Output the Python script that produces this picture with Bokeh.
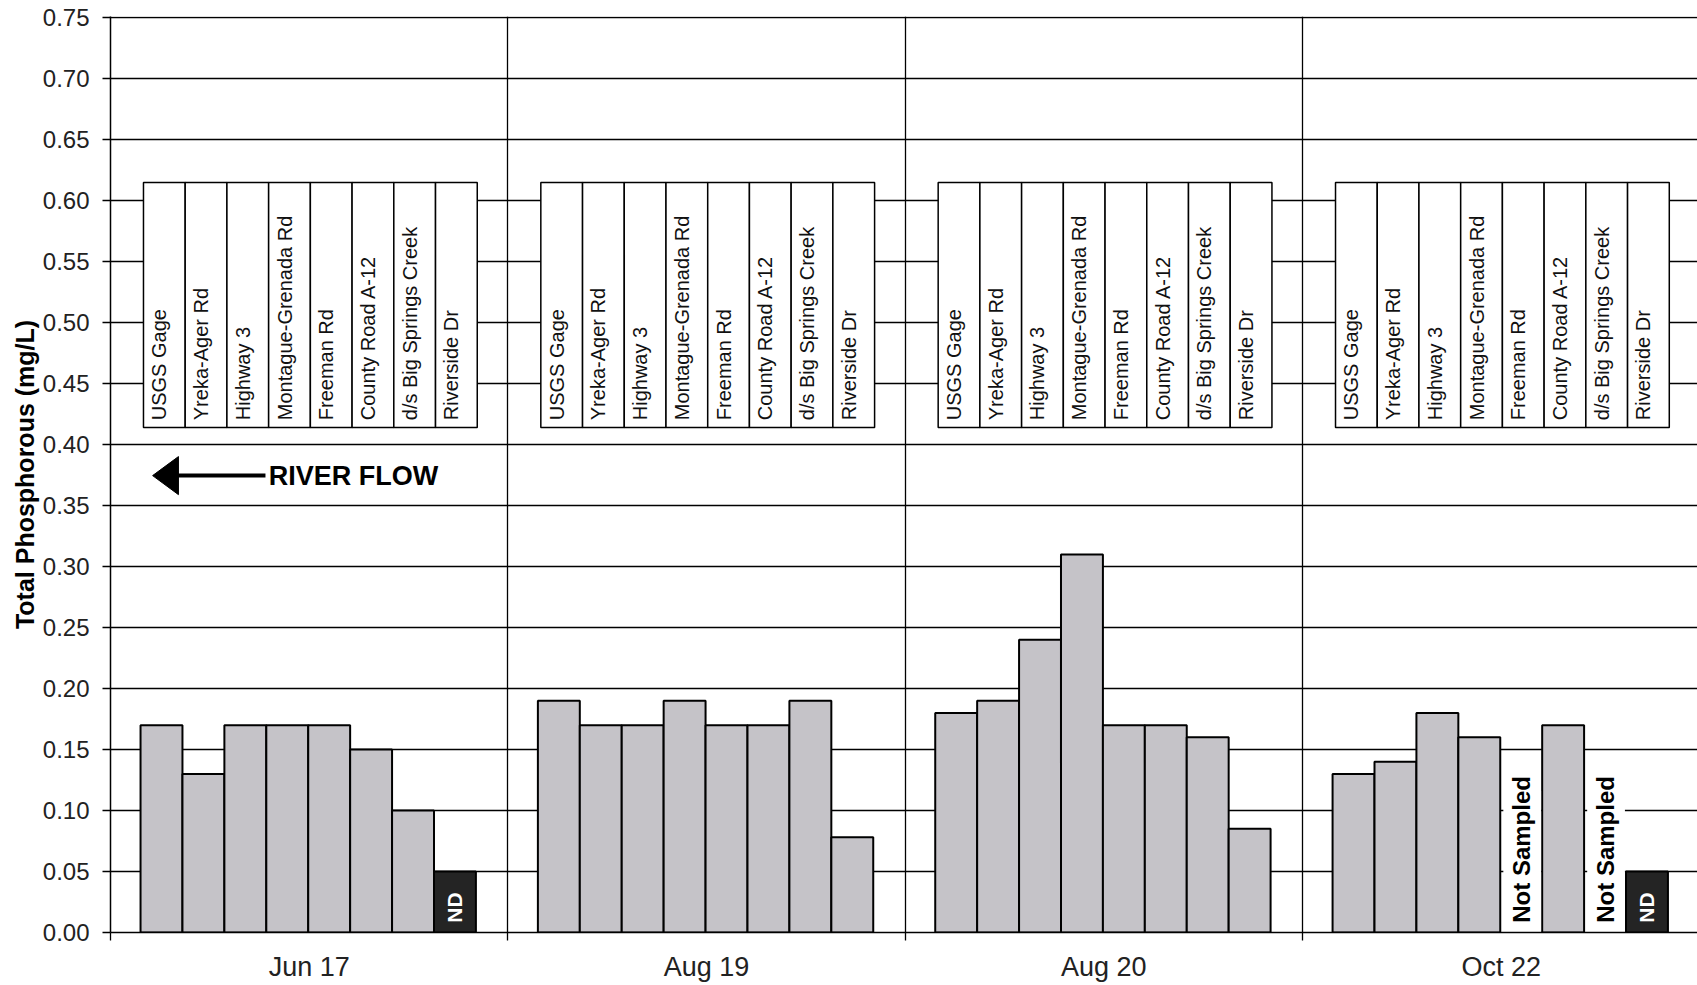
import math
from bokeh.plotting import figure
from bokeh.models import ColumnDataSource, FixedTicker, NumeralTickFormatter, Range1d
from bokeh.core.properties import value
from bokeh.embed import file_html
from bokeh.resources import INLINE

# ---------------- data ----------------
DATES = ["Jun 17", "Aug 19", "Aug 20", "Oct 22"]
SITES = ["USGS Gage", "Yreka-Ager Rd", "Highway 3", "Montague-Grenada Rd",
         "Freeman Rd", "County Road A-12", "d/s Big Springs Creek", "Riverside Dr"]

TP_JUN17 = [0.17, 0.13, 0.17, 0.17, 0.17, 0.15, 0.10, 0.05]
TP_AUG19 = [0.19, 0.17, 0.17, 0.19, 0.17, 0.17, 0.19, 0.078]
TP_AUG20 = [0.18, 0.19, 0.24, 0.31, 0.17, 0.17, 0.16, 0.085]
TP_OCT22 = [0.13, 0.14, 0.18, 0.16, None, 0.17, None, 0.05]

FLAG_JUN17 = ["", "", "", "", "", "", "", "ND"]
FLAG_AUG19 = ["", "", "", "", "", "", "", ""]
FLAG_AUG20 = ["", "", "", "", "", "", "", ""]
FLAG_OCT22 = ["", "", "", "", "Not Sampled", "", "Not Sampled", "ND"]

Y_TICKS = [0.00, 0.05, 0.10, 0.15, 0.20, 0.25, 0.30, 0.35, 0.40,
           0.45, 0.50, 0.55, 0.60, 0.65, 0.70, 0.75]

SERIES = [TP_JUN17, TP_AUG19, TP_AUG20, TP_OCT22]
FLAGS = [FLAG_JUN17, FLAG_AUG19, FLAG_AUG20, FLAG_OCT22]

# ---------------- layout constants ----------------
GROUP_PAD = 0.0756      # offset of first bar inside a date group
BAR_W = 0.1055          # bar width (group units)
BOX_PAD = 0.083         # offset of site-name box inside group
BOX_W = 0.105
BOX_BOTTOM, BOX_TOP = 0.414, 0.615
BAR_COLOR = "#C5C3C8"
ND_COLOR = "#242424"
FONT = "Liberation Sans"
NARROW = "'Liberation Sans Narrow', 'Liberation Sans', sans-serif"

p = figure(width=1697, height=985, output_backend="svg", toolbar_location=None,
           x_range=Range1d(0, 3.994), y_range=Range1d(0, 0.751),
           min_border_left=110, min_border_right=0, min_border_top=16,
           min_border_bottom=53)
p.outline_line_color = None
p.background_fill_color = "white"

# grid
p.ygrid.ticker = FixedTicker(ticks=Y_TICKS)
p.ygrid.grid_line_color = "black"
p.ygrid.grid_line_width = 1.3
p.xgrid.ticker = FixedTicker(ticks=list(range(len(DATES))))
p.xgrid.grid_line_color = "black"
p.xgrid.grid_line_width = 1.3

# y axis
p.yaxis.ticker = FixedTicker(ticks=Y_TICKS)
p.yaxis.formatter = NumeralTickFormatter(format="0.00")
p.yaxis.major_label_text_font = FONT
p.yaxis.major_label_text_font_size = "24px"
p.yaxis.major_label_text_color = "#222222"
p.yaxis.major_tick_out = 8
p.yaxis.major_tick_in = 0
p.yaxis.minor_tick_line_color = None
p.yaxis.major_label_standoff = 13
p.yaxis.axis_line_width = 1.5
p.yaxis.major_tick_line_width = 1.3
p.yaxis.axis_label = "Total Phosphorous (mg/L)"
p.yaxis.axis_label_text_font = FONT
p.yaxis.axis_label_text_font_style = "bold"
p.yaxis.axis_label_text_font_size = "25px"
p.yaxis.axis_label_text_color = "black"
p.yaxis.axis_label_standoff = 1

# x axis
centers = [g + 0.5 for g in range(len(DATES))]
p.xaxis.ticker = FixedTicker(ticks=centers, minor_ticks=list(range(len(DATES) + 1)))
p.xaxis.major_label_overrides = {c: d for c, d in zip(centers, DATES)}
p.xaxis.major_tick_line_color = None
p.xaxis.major_tick_out = 8
p.xaxis.minor_tick_out = 8
p.xaxis.minor_tick_in = 0
p.xaxis.minor_tick_line_color = "black"
p.xaxis.minor_tick_line_width = 1.3
p.xaxis.axis_line_width = 1.5
p.xaxis.major_label_text_font = FONT
p.xaxis.major_label_text_font_size = "27px"
p.xaxis.major_label_text_color = "#222222"
p.xaxis.major_label_standoff = 11

# ---------------- bars ----------------
bx, btop, bfill = [], [], []
nd_x = []
ns_x = []
for g, (vals, flags) in enumerate(zip(SERIES, FLAGS)):
    for i, (v, f) in enumerate(zip(vals, flags)):
        xc = g + GROUP_PAD + (i + 0.5) * BAR_W
        if f == "Not Sampled":
            ns_x.append(xc)
            continue
        bx.append(xc)
        btop.append(v)
        bfill.append(ND_COLOR if f == "ND" else BAR_COLOR)
        if f == "ND":
            nd_x.append(xc)

src = ColumnDataSource(dict(x=bx, top=btop, fill=bfill))
p.vbar(x="x", top="top", bottom=0, width=BAR_W, source=src,
       fill_color="fill", line_color="black", line_width=2)

# ND labels
p.text(x=nd_x, y=[0.008] * len(nd_x), text=["ND"] * len(nd_x), angle=math.pi / 2,
       text_align="left", text_baseline="middle", text_color="white",
       text_font=value(NARROW), text_font_style="bold", text_font_size="21px")

# Not sampled labels (white backing covers grid lines)
p.quad(left=[x - 0.045 for x in ns_x], right=[x + 0.05 for x in ns_x],
       bottom=[0.001] * len(ns_x), top=[0.116] * len(ns_x),
       fill_color="white", line_color=None)
p.text(x=ns_x, y=[0.008] * len(ns_x), text=["Not Sampled"] * len(ns_x), angle=math.pi / 2,
       text_align="left", text_baseline="middle", text_color="black",
       text_font=value(NARROW), text_font_style="bold", text_font_size="24px")

# ---------------- site-name boxes ----------------
ql, qr, tx, tt = [], [], [], []
for g in range(len(DATES)):
    for i, s in enumerate(SITES):
        left = g + BOX_PAD + i * BOX_W
        ql.append(left)
        qr.append(left + BOX_W)
        tx.append(left + BOX_W / 2)
        tt.append(s)
p.quad(left=ql, right=qr, bottom=[BOX_BOTTOM] * len(ql), top=[BOX_TOP] * len(ql),
       fill_color="white", line_color="black", line_width=1.5)
p.text(x=tx, y=[BOX_BOTTOM + 0.006] * len(tx), text=tt, angle=math.pi / 2,
       text_align="left", text_baseline="middle", text_color="#111111",
       text_font=value(FONT), text_font_size="20px", x_offset=-5)

# ---------------- river flow arrow ----------------
ARROW_Y = 0.3746
ARROW_TIP, ARROW_BASE, ARROW_TAIL = 0.106, 0.171, 0.39
p.segment(x0=[ARROW_BASE - 0.005], y0=[ARROW_Y], x1=[ARROW_TAIL], y1=[ARROW_Y],
          line_color="black", line_width=4)
p.patch(x=[ARROW_TIP, ARROW_BASE, ARROW_BASE], y=[ARROW_Y, ARROW_Y + 0.0156, ARROW_Y - 0.0156],
        fill_color="black", line_color="black", line_width=1)
p.text(x=[0.398], y=[ARROW_Y], text=["RIVER FLOW"], text_align="left",
       text_baseline="middle", text_color="black", text_font=value(FONT),
       text_font_style="bold", text_font_size="27px")

open("out.html", "w").write(file_html(p, INLINE))
